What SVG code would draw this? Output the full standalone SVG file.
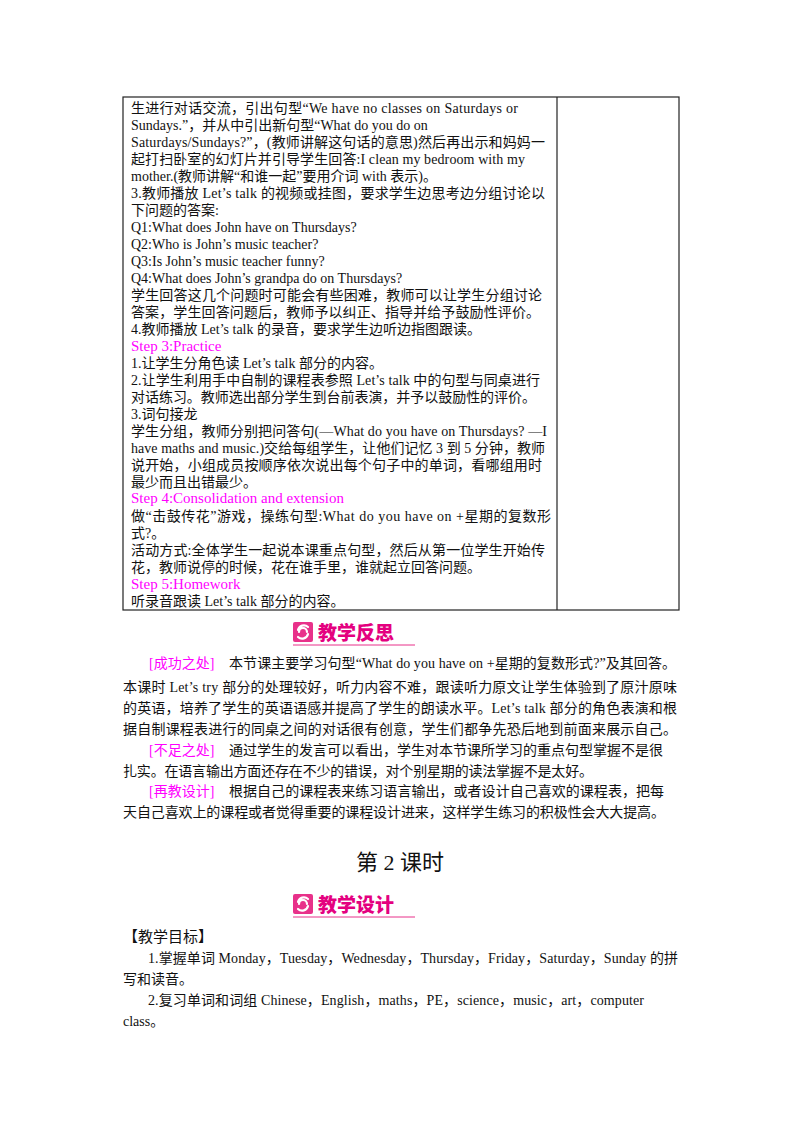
<svg xmlns="http://www.w3.org/2000/svg" width="800" height="1132" viewBox="0 0 800 1132">
<style>
text{font-family:"Liberation Serif","Noto Sans CJK SC",serif;fill:#111}
.t{font-size:14px}
.s{font-size:15px;fill:#ff00ff}
.p{font-size:14px}
.l{font-size:14px;fill:#ff00ff}
.b{font-family:"Noto Sans CJK SC",sans-serif;font-weight:900;font-size:19px;fill:#e4007f}
.g{fill:none;stroke:#fff;stroke-width:2.2;stroke-linecap:round}
</style>
<defs>
<g id="badge">
<rect x="0" y="0" width="20" height="20" rx="2" fill="#e8318a"/>
<path class="g" d="M15 5 A6 6 0 0 0 5 8 M5 15 A6 6 0 0 0 15 12 M6 10 A4 4 0 0 1 14 10"/>
<line x1="0" y1="23" x2="122" y2="23" stroke="#e8318a" stroke-width="1"/>
</g>
</defs>
<rect width="800" height="1132" fill="#fff"/>
<g id="table" fill="none" stroke="#222" stroke-width="1.2">
<rect x="123" y="97" width="556" height="513"/>
<line x1="557" y1="97" x2="557" y2="610"/>
</g>
<g id="table-text">
<text class="t" x="131" y="113" textLength="387" lengthAdjust="spacing">生进行对话交流，引出句型“We have no classes on Saturdays or</text>
<text class="t" x="131" y="130">Sundays.”，并从中引出新句型“What do you do on</text>
<text class="t" x="131" y="147" textLength="414" lengthAdjust="spacing">Saturdays/Sundays?”，(教师讲解这句话的意思)然后再出示和妈妈一</text>
<text class="t" x="131" y="164" textLength="394" lengthAdjust="spacing">起打扫卧室的幻灯片并引导学生回答:I clean my bedroom with my</text>
<text class="t" x="131" y="181">mother.(教师讲解“和谁一起”要用介词 with 表示)。</text>
<text class="t" x="131" y="198" textLength="414" lengthAdjust="spacing">3.教师播放 Let’s talk  的视频或挂图，要求学生边思考边分组讨论以</text>
<text class="t" x="131" y="215">下问题的答案:</text>
<text class="t" x="131" y="232">Q1:What does John have on Thursdays?</text>
<text class="t" x="131" y="249">Q2:Who is John’s music teacher?</text>
<text class="t" x="131" y="266">Q3:Is John’s music teacher funny?</text>
<text class="t" x="131" y="283">Q4:What does John’s grandpa do on Thursdays?</text>
<text class="t" x="131" y="300" textLength="411" lengthAdjust="spacing">学生回答这几个问题时可能会有些困难，教师可以让学生分组讨论</text>
<text class="t" x="131" y="317" textLength="409" lengthAdjust="spacing">答案，学生回答问题后，教师予以纠正、指导并给予鼓励性评价。</text>
<text class="t" x="131" y="334">4.教师播放 Let’s talk 的录音，要求学生边听边指图跟读。</text>
<text class="s" x="131" y="351">Step 3:Practice</text>
<text class="t" x="131" y="368">1.让学生分角色读 Let’s talk 部分的内容。</text>
<text class="t" x="131" y="385" textLength="409" lengthAdjust="spacing">2.让学生利用手中自制的课程表参照 Let’s talk 中的句型与同桌进行</text>
<text class="t" x="131" y="402" textLength="405" lengthAdjust="spacing">对话练习。教师选出部分学生到台前表演，并予以鼓励性的评价。</text>
<text class="t" x="131" y="419">3.词句接龙</text>
<text class="t" x="131" y="436" textLength="416" lengthAdjust="spacing">学生分组，教师分别把问答句(—What do you have on Thursdays? —I</text>
<text class="t" x="131" y="453" textLength="414" lengthAdjust="spacing">have maths and music.)交给每组学生，让他们记忆 3 到 5 分钟，教师</text>
<text class="t" x="131" y="470" textLength="411" lengthAdjust="spacing">说开始，小组成员按顺序依次说出每个句子中的单词，看哪组用时</text>
<text class="t" x="131" y="487">最少而且出错最少。</text>
<text class="s" x="131" y="503">Step 4:Consolidation and extension</text>
<text class="t" x="131" y="521" textLength="420" lengthAdjust="spacing">做“击鼓传花”游戏，操练句型:What do you have on +星期的复数形</text>
<text class="t" x="131" y="538">式?。</text>
<text class="t" x="131" y="555" textLength="414" lengthAdjust="spacing">活动方式:全体学生一起说本课重点句型，然后从第一位学生开始传</text>
<text class="t" x="131" y="572">花，教师说停的时候，花在谁手里，谁就起立回答问题。</text>
<text class="s" x="131" y="589">Step 5:Homework</text>
<text class="t" x="131" y="606">听录音跟读 Let’s talk 部分的内容。</text>
</g>
<g id="badge-reflect">
<use href="#badge" x="293" y="622"/>
<text class="b" x="318" y="640">教学反思</text>
</g>
<g id="reflection">
<text class="l" x="149" y="668">[成功之处]</text>
<text class="p" x="229" y="668" textLength="447" lengthAdjust="spacing">本节课主要学习句型“What do you have on +星期的复数形式?”及其回答。</text>
<text class="p" x="123" y="692" textLength="554" lengthAdjust="spacing">本课时  Let’s try 部分的处理较好，听力内容不难，跟读听力原文让学生体验到了原汁原味</text>
<text class="p" x="123" y="713" textLength="554" lengthAdjust="spacing">的英语，培养了学生的英语语感并提高了学生的朗读水平。Let’s talk 部分的角色表演和根</text>
<text class="p" x="123" y="734" textLength="554" lengthAdjust="spacing">据自制课程表进行的同桌之间的对话很有创意，学生们都争先恐后地到前面来展示自己。</text>
<text class="l" x="149" y="755">[不足之处]</text>
<text class="p" x="229" y="755" textLength="434" lengthAdjust="spacing">通过学生的发言可以看出，学生对本节课所学习的重点句型掌握不是很</text>
<text class="p" x="123" y="776" textLength="470" lengthAdjust="spacing">扎实。在语言输出方面还存在不少的错误，对个别星期的读法掌握不是太好。</text>
<text class="l" x="149" y="796">[再教设计]</text>
<text class="p" x="229" y="796" textLength="435" lengthAdjust="spacing">根据自己的课程表来练习语言输出，或者设计自己喜欢的课程表，把每</text>
<text class="p" x="123" y="817" textLength="542" lengthAdjust="spacing">天自己喜欢上的课程或者觉得重要的课程设计进来，这样学生练习的积极性会大大提高。</text>
</g>
<text id="title" x="400" y="870" text-anchor="middle" style="font-size:22px">第 2 课时</text>
<g id="badge-design">
<use href="#badge" x="293" y="894"/>
<text class="b" x="318" y="912">教学设计</text>
</g>
<g id="objectives">
<text class="p" x="123" y="942" style="font-size:15px">【教学目标】</text>
<text class="p" x="148" y="963" textLength="530" lengthAdjust="spacing">1.掌握单词 Monday，Tuesday，Wednesday，Thursday，Friday，Saturday，Sunday 的拼</text>
<text class="p" x="123" y="984">写和读音。</text>
<text class="p" x="148" y="1005" textLength="496" lengthAdjust="spacing">2.复习单词和词组 Chinese，English，maths，PE，science，music，art，computer</text>
<text class="p" x="123" y="1026">class。</text>
</g>
</svg>
